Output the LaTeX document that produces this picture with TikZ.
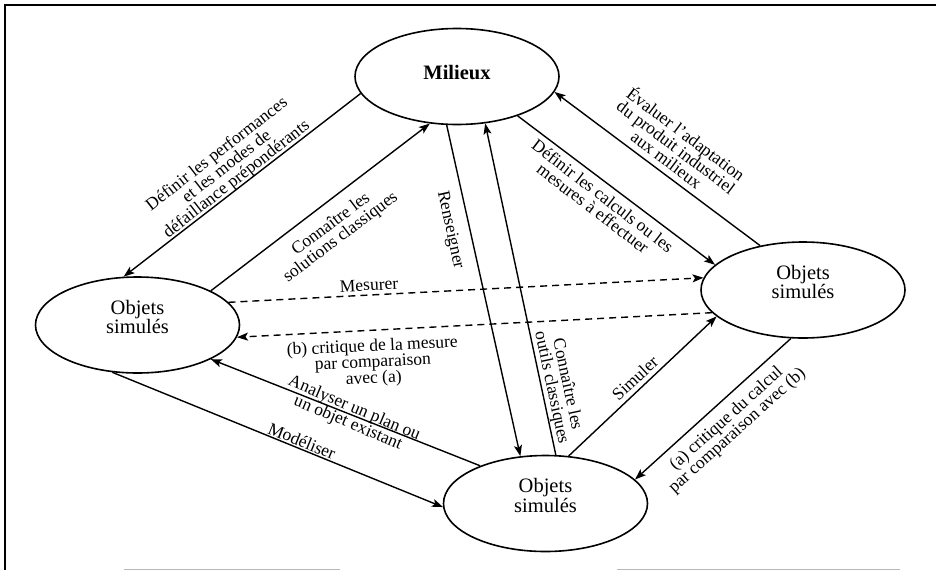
\documentclass[tikz,border=0pt]{standalone}
\usepackage{fontspec}
\setmainfont{Liberation Serif}
\usetikzlibrary{arrows.meta,shapes.geometric}
\begin{document}
\begin{tikzpicture}[x=1pt,y=-1pt,
  obj/.style={ellipse,draw,line width=1.6pt,minimum width=204pt,minimum height=96pt,inner sep=0pt},
  objtext/.style={align=center,inner sep=0pt,yshift=8pt,font=\fontsize{20.5}{18}\selectfont},
  lab/.style={align=center,inner sep=0pt,font=\fontsize{17.5}{16}\selectfont},
  conn/.style={line width=1.4pt,-{Stealth[length=11pt,width=8pt,inset=2.5pt]}},
  dconn/.style={conn,dash pattern=on 7pt off 5pt}]
\useasboundingbox (0,0) rectangle (936,570);
\fill[white] (0,0) rectangle (936,570);
% frame
\draw[line width=2.2pt] (936,5) -- (5,5) -- (5,570);
\draw[gray!55,line width=1pt] (124,569) -- (340,569);
\draw[gray!55,line width=1pt] (617,569) -- (900,569);

% nodes
\node[obj,label={[objtext,yshift=-4pt,font=\fontsize{20.5}{18}\selectfont\bfseries]center:Milieux}] (mil) at (457,76.5) {};
\node[obj,label={[objtext]center:Objets\\simulés}] (lft) at (137.5,325) {};
\node[obj,label={[objtext]center:Objets\\simulés}] (rgt) at (803,290) {};
\node[obj,label={[objtext]center:Objets\\simulés}] (bot) at (545.5,503.5) {};

% connectors
\draw[conn] (mil.190.2) -- (lft.106.8);
\draw[conn] (lft.25.9) -- (mil.240.6);
\draw[conn] (mil.258.2) -- (bot.118.6);
\draw[conn] (bot.78.9) -- (mil.301.1);
\draw[conn] (mil.327.6) -- (rgt.164.5);
\draw[conn] (rgt.134.4) -- (mil.351.4);
\draw[dconn] (lft.14) -- (rgt.173);
\draw[dconn] (rgt.194.8) -- (lft.353.8);
\draw[conn] (bot.150.9) -- (lft.335.4);
\draw[conn] (lft.242.5) -- (bot.182.5);
\draw[conn] (bot.64.2) -- (rgt.197.8);
\draw[conn] (rgt.256) -- (bot.15.7);

% labels
\node[lab,rotate=37.9] (t1) at (227,167) {Définir les performances\\et les modes de\\défaillance prépondérants};
\node[lab,rotate=37] (t2) at (336,231) {Connaître les\\solutions classiques};
\node[lab,rotate=-77.7] (t3) at (450,230) {Renseigner};
\node[lab,rotate=-78] (t4) at (559,386) {Connaître les\\outils classiques};
\node[lab,rotate=-37.5] (t5) at (598,202) {Définir les calculs ou les\\mesures à effectuer};
\node[lab,rotate=-37] (t6) at (677,146) {Évaluer l'adaptation\\du produit industriel\\aux milieux};
\node[lab,rotate=2.9] (t7) at (369,285) {Mesurer};
\node[lab,rotate=2.7] (t8) at (373,363) {(b) critique de la mesure\\par comparaison\\avec (a)};
\node[lab,rotate=-23] (t9) at (351,416) {Analyser un plan ou\\un objet existant};
\node[lab,rotate=-22.4] (t10) at (302,441) {Modéliser};
\node[lab,rotate=42.8] (t11) at (635,378) {Simuler};
\node[lab,rotate=42] (t12) at (732,425) {(a) critique du calcul\\par comparaison avec (b)};
\end{tikzpicture}
\end{document}
